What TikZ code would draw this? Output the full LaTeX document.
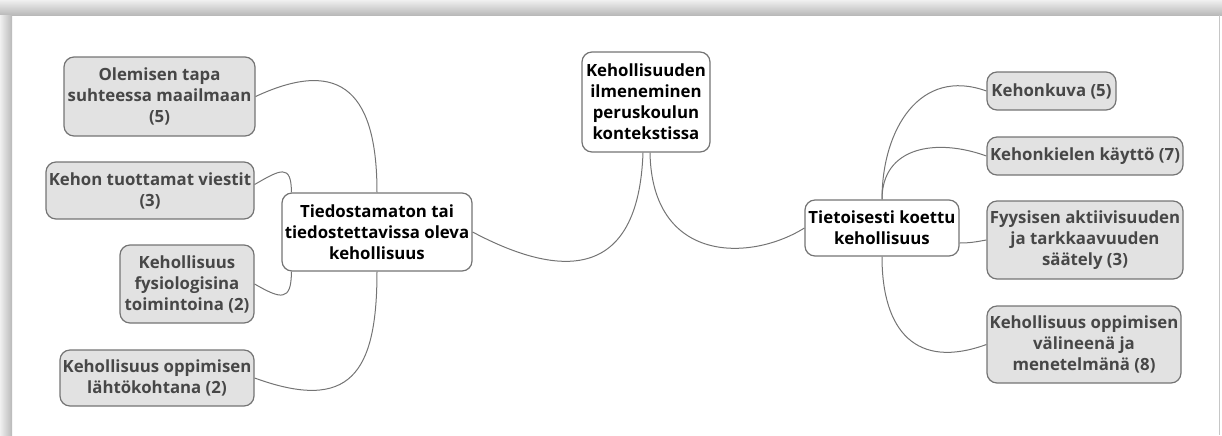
\documentclass[tikz,border=0pt]{standalone}
\usepackage{fontspec}
\setmainfont{Open Sans}
\usetikzlibrary{shapes,arrows}
\definecolor{boxgray}{HTML}{E2E2E2}
\definecolor{linegray}{HTML}{747474}
\definecolor{labelgray}{HTML}{474747}

\begin{document}
\begin{tikzpicture}
[
x=0.5pt, y=-0.5pt,
every edge/.style={draw=linegray, line width=0.5pt},
topic/.style={draw=linegray, fill=white, text=black, rounded corners=5pt, line width=0.6pt, align=center, inner sep=1pt, font=\fontsize{8.4}{10.5}\selectfont\bfseries},
subtopic/.style={topic, fill=boxgray, text=labelgray}
]
\useasboundingbox (0,0) rectangle (1222,435);
\shade[top color=gray!12, bottom color=gray!55] (0,0) rectangle (1222,15);
\shade[left color=gray!12, right color=gray!55] (0,15) rectangle (12,435);
\draw[gray!45] (1219,15) -- (1219,435);

\node[topic, minimum width=64pt, minimum height=50pt] (root) at (646,102) {Kehollisuuden\\ilmeneminen\\peruskoulun\\kontekstissa};
\node[topic, minimum width=95pt, minimum height=39pt] (uncon) at (377,232) {Tiedostamaton tai\\tiedostettavissa oleva\\kehollisuus};
\node[topic, minimum width=77pt, minimum height=28pt] (con) at (882,228) {Tietoisesti koettu\\kehollisuus};

\node[subtopic, minimum width=95.5pt, minimum height=39.5pt] (being) at (159.5,96.5) {Olemisen tapa\\suhteessa maailmaan\\(5)};
\node[subtopic, minimum width=104pt, minimum height=28.5pt] (signals) at (150,190.5) {Kehon tuottamat viestit\\(3)};
\node[subtopic, minimum width=67pt, minimum height=39pt] (physio) at (187,284) {Kehollisuus\\fysiologisina\\toimintoina (2)};
\node[subtopic, minimum width=97pt, minimum height=28pt] (start) at (157,378) {Kehollisuus oppimisen\\lähtökohtana (2)};

\node[subtopic, minimum width=64.5pt, minimum height=19pt] (image) at (1051.5,91) {Kehonkuva (5)};
\node[subtopic, minimum width=98pt, minimum height=19pt] (language) at (1085,156) {Kehonkielen käyttö (7)};
\node[subtopic, minimum width=98pt, minimum height=39pt] (regul) at (1085,240) {Fyysisen aktiivisuuden\\ja tarkkaavuuden\\säätely (3)};
\node[subtopic, minimum width=97pt, minimum height=38.5pt] (means) at (1084,344.5) {Kehollisuus oppimisen\\välineenä ja\\menetelmänä (8)};

\path
([xshift=-1.5pt] root.south)	edge[out=-92, in=-28, out looseness=1.75, in looseness=1.35]	(uncon.east)
([xshift=2pt] root.south)	edge[out=-89, in=212, out looseness=1.65, in looseness=0.95]	(con.west)
(uncon.north)	edge[out=90, in=25, looseness=1.6]	(being.east)
([xshift=5pt] uncon.north west)	edge[out=90, in=30, looseness=2]	([yshift=3pt] signals.east)
([xshift=5pt] uncon.south west)	edge[out=-90, in=-30, looseness=2]	(physio.east)
(uncon.south)	edge[out=-90, in=-20, looseness=1.6]	(start.east)
(con.north)	edge[out=90, in=160, looseness=1.2]	(image.west)
(con.north)	edge[out=90, in=160, looseness=1.2]	(language.west)
([yshift=-7.5pt] con.east)	edge[out=0, in=190]	(regul.west)
(con.south)	edge[out=-90, in=200, looseness=1.4]	(means.west);
\end{tikzpicture}
\end{document}
